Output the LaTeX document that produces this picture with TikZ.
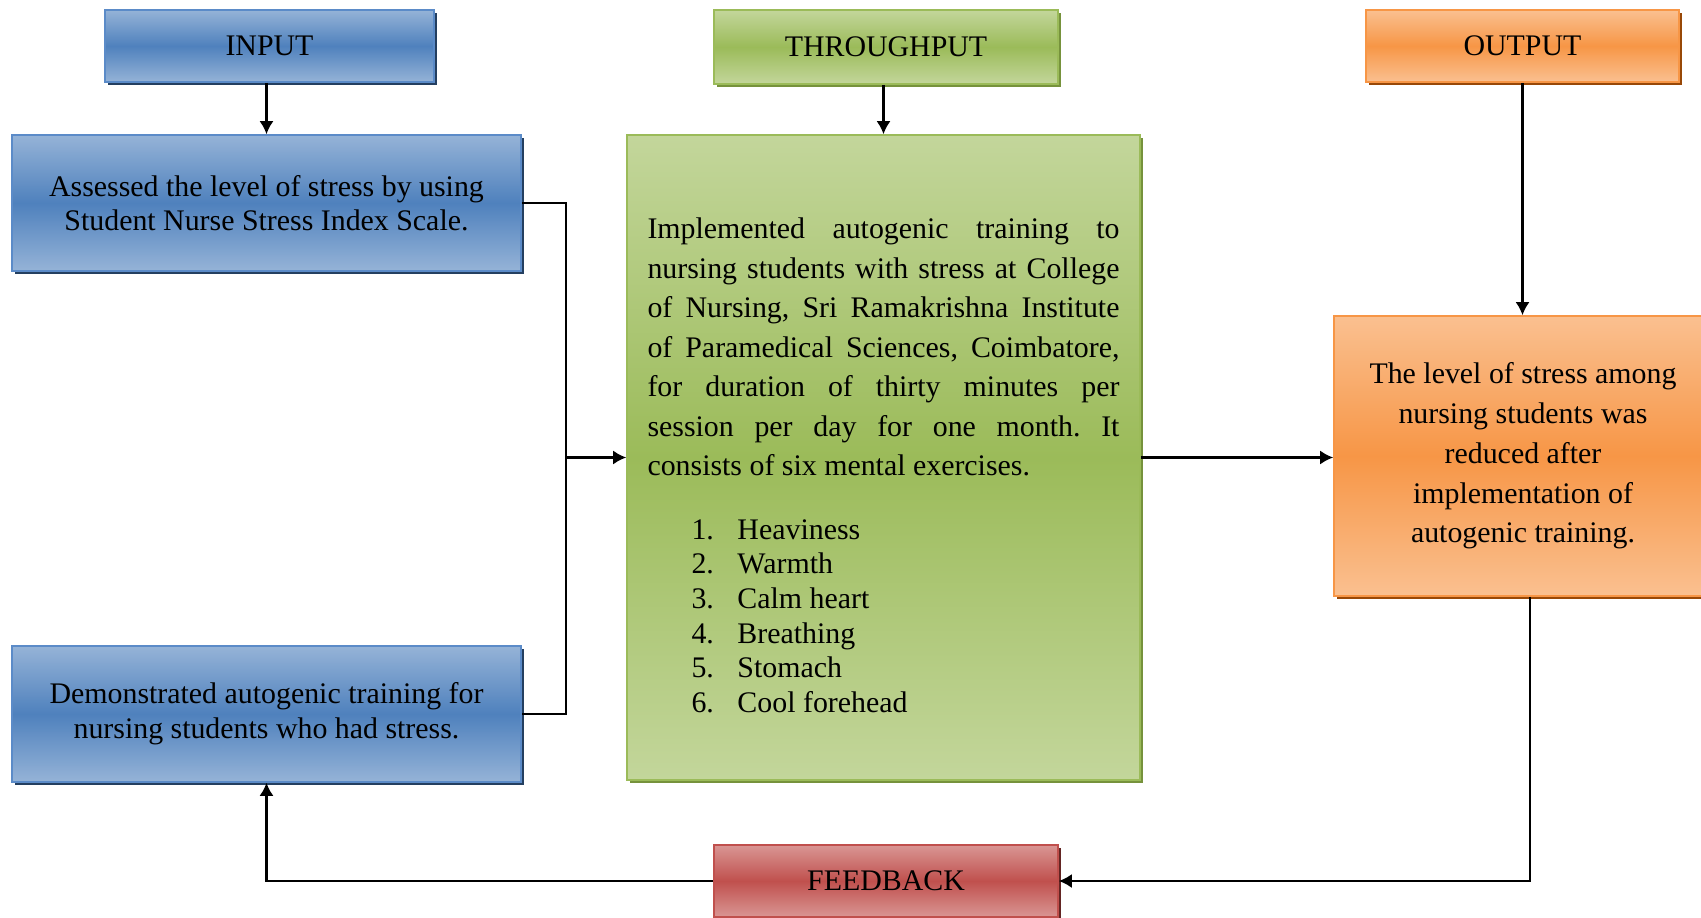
\documentclass[tikz,border=0pt]{standalone}
\usepackage{fontspec}
\setmainfont{Liberation Serif}
\usetikzlibrary{shadows,arrows.meta}
\definecolor{bluemid}{HTML}{4F81BD}
\definecolor{bluelight}{HTML}{95B3D7}
\definecolor{blueedge}{HTML}{5B8BC8}
\definecolor{blueshade}{HTML}{243F60}
\definecolor{greenmid}{HTML}{9BBB59}
\definecolor{greenlight}{HTML}{C3D69B}
\definecolor{greenshade}{HTML}{76923C}
\definecolor{orangemid}{HTML}{F79646}
\definecolor{orangelight}{HTML}{FAC090}
\definecolor{orangeshade}{HTML}{984807}
\definecolor{redmid}{HTML}{C0504D}
\definecolor{redlight}{HTML}{D99694}
\definecolor{redshade}{HTML}{632523}
\setlength{\parindent}{0pt}
\setlength{\parskip}{0pt}
\frenchspacing
\begin{document}
\begin{tikzpicture}[x=0.2mm,y=-0.2mm,>={Latex[length=2.6mm,width=2.8mm]},line width=1.2pt,
  shade/.style={general shadow={fill=#1,shadow xshift=0.6mm,shadow yshift=-0.6mm}},
  box/.style={draw,line width=0.9pt,inner sep=0pt,align=center,font=\fontsize{17}{19.1}\selectfont},
  bluebox/.style={box,shade=blueshade,draw=blueedge,top color=bluelight,bottom color=bluelight,middle color=bluemid},
  greenbox/.style={box,shade=greenshade,draw=greenmid,top color=greenlight,bottom color=greenlight,middle color=greenmid},
  orangebox/.style={box,shade=orangeshade,draw=orangemid,top color=orangelight,bottom color=orangelight,middle color=orangemid},
  redbox/.style={box,shade=redshade,draw=redmid,top color=redlight,bottom color=redlight,middle color=redmid}]
\useasboundingbox (0,0) rectangle (1701,918);
% heads
\node[bluebox,minimum width=65.8mm,minimum height=14.4mm] (input) at (269.5,46) {INPUT};
\node[greenbox,minimum width=68.8mm,minimum height=14.8mm] (through) at (886,47) {THROUGHPUT};
\node[orangebox,minimum width=62.6mm,minimum height=14.4mm] (output) at (1522.5,46) {OUTPUT};
\node[redbox,minimum width=68.8mm,minimum height=14.4mm] (feedback) at (886,881) {FEEDBACK};
% input side
\node[bluebox,minimum width=101.8mm,minimum height=27.2mm] (assess) at (266.5,203) {Assessed the level of stress by using\\Student Nurse Stress Index Scale.};
\node[bluebox,minimum width=101.8mm,minimum height=27.2mm,font=\fontsize{17}{20}\selectfont] (demo) at (266.5,714) {Demonstrated autogenic training for\\nursing students who had stress.};
% throughput
\node[greenbox,minimum width=102.6mm,minimum height=129mm,text width=94.4mm,align=justify,font=\fontsize{17}{22.45}\selectfont] (train) at (883.5,457.5) {Implemented autogenic training to\linebreak nursing students with stress at College\linebreak of Nursing, Sri Ramakrishna Institute\linebreak of Paramedical Sciences, Coimbatore,\linebreak for duration of thirty minutes per\linebreak session per day for one month. It\linebreak consists of six mental exercises.\par
\vspace{16.6pt}
{\fontsize{17}{19.7}\selectfont
\hspace*{8.8mm}\makebox[9.2mm][l]{1.}Heaviness\par
\hspace*{8.8mm}\makebox[9.2mm][l]{2.}Warmth\par
\hspace*{8.8mm}\makebox[9.2mm][l]{3.}Calm heart\par
\hspace*{8.8mm}\makebox[9.2mm][l]{4.}Breathing\par
\hspace*{8.8mm}\makebox[9.2mm][l]{5.}Stomach\par
\hspace*{8.8mm}\makebox[9.2mm][l]{6.}Cool forehead\par}
\vspace{-3.2mm}\hrule height 0pt};
% output
\node[orangebox,minimum width=75.6mm,minimum height=56mm,font=\fontsize{17}{22.6}\selectfont] (result) at (1523,456) {The level of stress among\\nursing students was\\reduced after\\implementation of\\autogenic training.};
% connectors
\draw[->] (assess.north |- input.south) -- (assess.north);
\draw[->] (train.north |- through.south) -- (train.north);
\draw[->] (output.south) -- (output.south |- result.north);
\path (train.west) ++(-60,0) coordinate (join);
\draw (assess.east) -| (join) |- (demo.east);
\draw[->] (join) -- (train.west);
\draw[->] (train.east) -- (train.east -| result.west);
\coordinate (back) at (1530,881);
\draw[->] (back |- result.south) |- (feedback.east);
\draw[->] (feedback.west) -| (demo.south);
\end{tikzpicture}
\end{document}
